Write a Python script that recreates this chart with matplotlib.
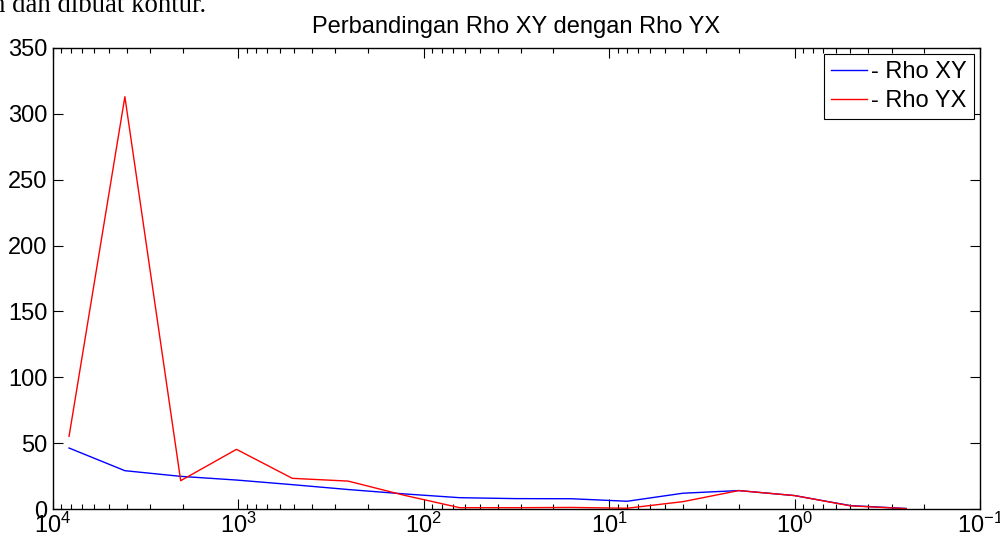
import matplotlib
matplotlib.use("Agg")
import matplotlib.pyplot as plt
from matplotlib.ticker import FixedLocator, LogLocator, NullFormatter

# Data
freq = [8192, 4096, 2048, 1024, 512, 256, 128, 64, 32, 16, 8, 4, 2, 1, 0.5, 0.25]
rho_xy = [46.3, 29.1, 24.8, 22.0, 18.5, 14.8, 11.5, 8.6, 7.9, 7.8, 5.9, 12.0, 14.0, 10.2, 2.6, 0.4]
rho_yx = [55.2, 313.0, 21.5, 45.3, 23.3, 21.2, 10.5, 1.0, 1.0, 1.2, 0.6, 5.6, 14.0, 10.2, 2.4, 0.3]
xticks = [1e4, 1e3, 1e2, 1e1, 1e0, 1e-1]
xticklabels = ["4", "3", "2", "1", "0", "-1"]
yticks = [0, 50, 100, 150, 200, 250, 300, 350]
title = "Perbandingan Rho XY dengan Rho YX"
labels = ["- Rho XY", "- Rho YX"]

plt.rcParams["font.family"] = ["Liberation Sans", "DejaVu Sans"]
plt.rcParams["mathtext.fontset"] = "custom"
plt.rcParams["mathtext.rm"] = "Liberation Sans"
plt.rcParams["mathtext.it"] = "Liberation Sans"

fig = plt.figure(figsize=(10, 5.44), dpi=100)
ax = fig.add_axes([0.053, 0.0643, 0.927, 0.8475])

ax.plot(freq, rho_xy, color="#0000ff", lw=1.0, label=labels[0])
ax.plot(freq, rho_yx, color="#ff0000", lw=1.0, label=labels[1])

ax.set_xscale("log")
ax.set_xlim(1e4, 1e-1)
ax.set_ylim(0, 350)
ax.xaxis.set_major_locator(FixedLocator(xticks))
ax.set_xticklabels([r"$\mathregular{10^{%s}}$" % t for t in xticklabels])
ax.xaxis.set_minor_locator(LogLocator(base=10, subs=range(2, 10), numticks=20))
ax.xaxis.set_minor_formatter(NullFormatter())
ax.set_yticks(yticks)
ax.set_yticklabels([str(v) for v in yticks])

ax.tick_params(axis="both", which="major", direction="in", length=7, width=0.8,
               top=True, right=True, labelsize=17, pad=4, colors="black")
ax.tick_params(axis="x", which="major", pad=3)
ax.tick_params(axis="x", which="minor", direction="in", length=3.6, width=0.8, top=True)
for s in ax.spines.values():
    s.set_linewidth(1.0)
    s.set_color("black")

ax.set_title(title, fontsize=17, pad=11)

leg = ax.legend(loc="upper right", fontsize=17, frameon=True, fancybox=False,
                edgecolor="black", framealpha=1, borderaxespad=0.25,
                handlelength=1.5, handletextpad=0.2, labelspacing=0.3,
                borderpad=0.3)
leg.get_frame().set_linewidth(0.8)

fig.text(-0.008, 1 - 12.5 / 544, "n dan dibuat kontur.", family="Liberation Serif",
         fontsize=19.3, va="baseline", ha="left")

fig.savefig("out.png", dpi=100)
